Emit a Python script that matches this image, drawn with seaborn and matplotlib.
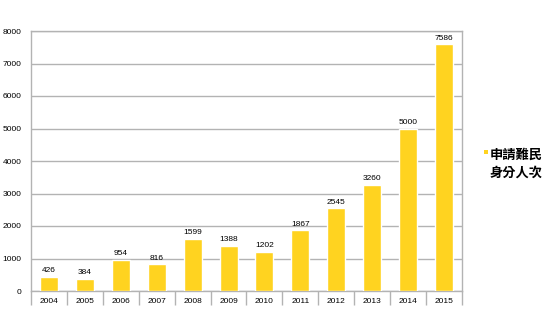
import matplotlib
matplotlib.use("Agg")
import matplotlib.pyplot as plt
from matplotlib.patches import Rectangle
import seaborn as sns
import pandas as pd

years = ["2004", "2005", "2006", "2007", "2008", "2009",
         "2010", "2011", "2012", "2013", "2014", "2015"]
applicants = [426, 384, 954, 816, 1599, 1388, 1202, 1867, 2545, 3260, 5000, 7586]
series_label = "申請難民\n身分人次"
y_ticks = [0, 1000, 2000, 3000, 4000, 5000, 6000, 7000, 8000]

bar_color = "#FFD320"
line_color = "#b3b3b3"

sns.set_style("white")
plt.rcParams["font.family"] = ["Liberation Sans", "DejaVu Sans"]
plt.rcParams["text.color"] = "black"
plt.rcParams["xtick.labelcolor"] = "black"
plt.rcParams["ytick.labelcolor"] = "black"

df = pd.DataFrame({"year": years, "count": applicants})

fig = plt.figure(figsize=(5.51, 3.28), dpi=100)
ax = fig.add_axes([31 / 551, 1 - 291 / 328, (462 - 31) / 551, (291 - 31) / 328])

sns.barplot(data=df, x="year", y="count", color=bar_color, width=0.5,
            saturation=1, ax=ax, zorder=3)

ax.set_ylim(0, 8000)
ax.set_xlim(-0.5, len(years) - 0.5)
ax.set_yticks(y_ticks)
ax.set_yticklabels([str(t) for t in y_ticks], fontsize=6)
ax.yaxis.grid(True, color=line_color, linewidth=1, zorder=0)
ax.set_axisbelow(True)
ax.set_xlabel("")
ax.set_ylabel("")

# category labels centred between boundary ticks
ax.tick_params(axis="x", which="major", bottom=True, length=0, labelsize=6, pad=5)
ax.set_xticks([i - 0.5 for i in range(len(years) + 1)], minor=True)
ax.tick_params(axis="x", which="minor", bottom=True, direction="out",
               length=10, width=1, color=line_color)
ax.tick_params(axis="y", which="major", length=0, pad=7)

for side in ["left", "right", "top", "bottom"]:
    ax.spines[side].set_visible(True)
    ax.spines[side].set_color(line_color)
    ax.spines[side].set_linewidth(1)

for cont in ax.containers:
    ax.bar_label(cont, labels=[str(v) for v in applicants], fontsize=6,
                 padding=2, color="black")

# series key on the right
fig.add_artist(Rectangle((484 / 551, 1 - 154 / 328), 4 / 551, 4 / 328,
                         transform=fig.transFigure, color=bar_color, lw=0))
fig.text(490 / 551, 1 - 148 / 328, series_label, ha="left", va="top",
         fontsize=9.5, fontweight="bold", linespacing=1.35, color="black",
         family=["Noto Sans CJK TC", "DejaVu Sans"])

fig.savefig("out.png", dpi=100)
